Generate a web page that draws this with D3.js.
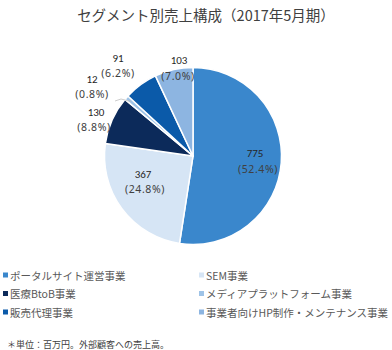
<!DOCTYPE html>
<html>
<head>
<meta charset="utf-8">
<script src="https://cdn.jsdelivr.net/npm/d3@7"></script>
<style>
  html, body { margin: 0; padding: 0; background: #fff; }
  svg { display: block; font-family: "Noto Sans CJK JP", "Noto Sans", sans-serif; }
</style>
</head>
<body>
<svg id="chart" width="392" height="350"></svg>
<script>
// Segment names (legend order) and sales in millions of yen
const segments = [
  "ポータルサイト運営事業",
  "SEM事業",
  "医療BtoB事業",
  "メディアプラットフォーム事業",
  "販売代理事業",
  "事業者向けHP制作・メンテナンス事業"
];
const sales = [775, 367, 130, 12, 91, 103];
const colors = ["#3a87cc", "#d6e5f5", "#0c2a5a", "#9ec3e7", "#0b5aa9", "#8db5e1"];

const title = "セグメント別売上構成（2017年5月期）";
const note = "＊単位：百万円。外部顧客への売上高。";

// Label anchor offsets from the pie centre (number line, percent line)
const labelAt = [
  [[62, -3], [65, 13]],
  [[-50, 18], [-48, 33]],
  [[-97, -44], [-99, -29]],
  [[-101, -77], [-101, -62]],
  [[-75, -98], [-75, -83]],
  [[-14, -96], [-15, -80]]
];

const svg = d3.select("#chart");
const cx = 193, cy = 156, R = 88.5;

svg.append("text")
  .attr("x", 206).attr("y", 21)
  .attr("text-anchor", "middle")
  .attr("font-size", 14.5)
  .attr("fill", "#404040")
  .text(title);

const total = d3.sum(sales);
const rows = sales.map((v, i) => ({ name: segments[i], value: v, color: colors[i], i }));

const pie = d3.pie().sort(null).value(d => d.value);
const arc = d3.arc().innerRadius(0).outerRadius(R);
const arcs = pie(rows);

const g = svg.append("g").attr("transform", `translate(${cx},${cy})`);

g.selectAll("path.slice")
  .data(arcs)
  .join("path")
  .attr("class", "slice")
  .attr("d", arc)
  .attr("fill", d => d.data.color)
  .attr("stroke", "#fff")
  .attr("stroke-width", 1.5)
  .attr("stroke-linejoin", "round");

// Leader line for the thin slice
const thin = arcs[3];
const mid = (thin.startAngle + thin.endAngle) / 2;
const edge = [Math.sin(mid) * (R - 6), -Math.cos(mid) * (R - 6)];
g.append("path")
  .attr("d", d3.line()([[-78, -55], [-72, -57], edge]))
  .attr("fill", "none")
  .attr("stroke", "#bfbfbf")
  .attr("stroke-width", 0.8);

const fmt = d3.format(".1f");
arcs.forEach((a, i) => {
  const [p1, p2] = labelAt[i];
  const pct = fmt(a.data.value / total * 100);
  g.append("text")
    .attr("x", p1[0]).attr("y", p1[1])
    .attr("text-anchor", "middle")
    .attr("dominant-baseline", "central")
    .attr("font-family", "Carlito, 'Liberation Sans', sans-serif")
    .attr("font-size", 11)
    .attr("fill", "#262626")
    .text(a.data.value);
  g.append("text")
    .attr("x", p2[0]).attr("y", p2[1])
    .attr("text-anchor", "middle")
    .attr("dominant-baseline", "central")
    .attr("font-family", "'Noto Sans', sans-serif")
    .attr("font-size", 10.5)
    .attr("letter-spacing", 0.6)
    .attr("fill", "#404040")
    .text("(" + pct + "%)");
});

// Legend in two columns
const legend = svg.append("g");
rows.forEach((d, i) => {
  const col = i % 2, row = Math.floor(i / 2);
  const x = col === 0 ? 3 : 199;
  const y = 275 + row * 18.5;
  legend.append("rect")
    .attr("x", x).attr("y", y - 2.5)
    .attr("width", 5).attr("height", 5)
    .attr("fill", d.color);
  legend.append("text")
    .attr("x", x + 7).attr("y", y)
    .attr("dominant-baseline", "central")
    .attr("font-size", 10.5)
    .attr("fill", "#595959")
    .text(d.name);
});

svg.append("text")
  .attr("x", 7).attr("y", 344)
  .attr("dominant-baseline", "central")
  .attr("font-size", 9)
  .attr("fill", "#404040")
  .text(note);
</script>
</body>
</html>
